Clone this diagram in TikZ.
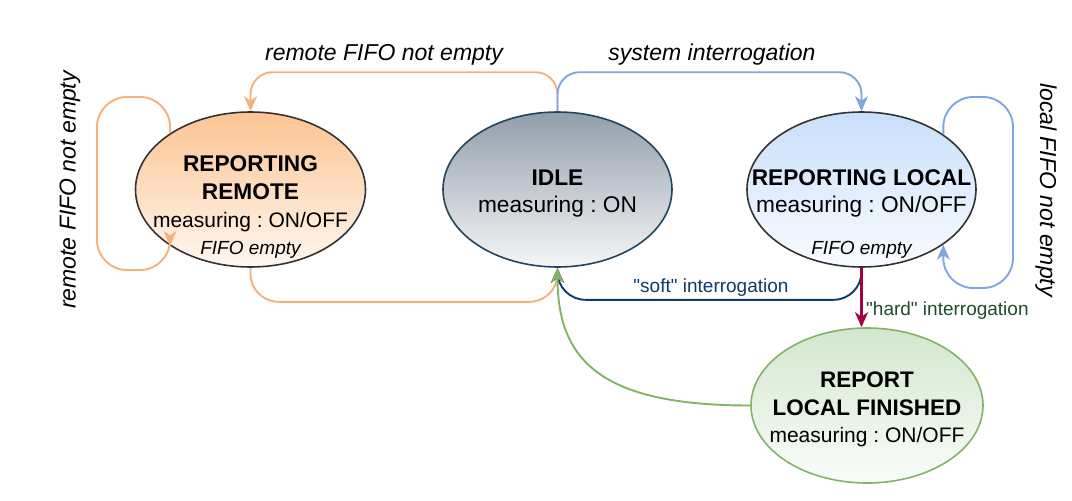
\documentclass[tikz,border=0pt]{standalone}
\usepackage{fontspec}
\setmainfont{Liberation Sans}
\newfontfamily\plainsans{Liberation Sans}
\frenchspacing
\usetikzlibrary{shapes.geometric,arrows.meta}
\definecolor{orEdge}{HTML}{F6B07A}
\definecolor{blEdge}{HTML}{7EA6E0}
\definecolor{navyEdge}{HTML}{0E3A6A}
\definecolor{crimEdge}{HTML}{A50040}
\definecolor{grEdge}{HTML}{82B366}
\definecolor{hardTxt}{HTML}{1E4D2B}
\definecolor{idleLine}{HTML}{23445D}
\definecolor{darkLine}{HTML}{333333}
\newcommand{\smallmeas}{\fontsize{21}{28}\selectfont}
\tikzset{
  stnode/.style={ellipse, line width=1.6pt, inner sep=0pt, minimum width=230pt, minimum height=155pt},
  bigtxt/.style={align=center, inner sep=0pt, yshift=-4pt},
  smalltxt/.style={inner sep=0pt, font=\fontsize{19}{22}\selectfont\itshape},
  lbl/.style={inner sep=0pt, font=\fontsize{23}{27}\selectfont\itshape},
  edgelbl/.style={inner sep=0pt, font=\plainsans\fontsize{19}{22}\selectfont},
  conn/.style={line width=1.9pt, rounded corners=22pt, -{Stealth[length=15pt,width=13pt,inset=4.5pt]}},
}
\begin{document}
\begin{tikzpicture}[x=1pt,y=-1pt]
\useasboundingbox (0,0) rectangle (1072,501);
% states
\node[stnode, draw=darkLine, top color={rgb,255:red,252;green,196;blue,146}, bottom color={rgb,255:red,255;green,247;blue,240}] (rr) at (250.5,189.5) {};
\node[stnode, draw=idleLine, top color={rgb,255:red,146;green,158;blue,170}, bottom color={rgb,255:red,245;green,246;blue,248}, minimum width=229pt] (idle) at (557.5,189.5) {};
\node[stnode, draw=darkLine, top color={rgb,255:red,200;green,223;blue,250}, bottom color={rgb,255:red,250;green,252;blue,255}, minimum width=229pt] (loc) at (861.5,189.5) {};
\node[stnode, draw=grEdge, top color={rgb,255:red,210;green,231;blue,206}, bottom color={rgb,255:red,250;green,253;blue,249}, minimum width=232pt] (fin) at (867,405.5) {};
% state texts
\node[bigtxt, font=\fontsize{22.7}{28}\selectfont] (rrt) at (rr.center) {\textbf{REPORTING}\\\textbf{REMOTE}\\\smallmeas measuring : ON/OFF};
\node[smalltxt] (rrf) at ([yshift=-60pt]rr.center) {FIFO empty};
\node[bigtxt, font=\fontsize{22.7}{27}\selectfont] (idlet) at (idle.center) {\textbf{IDLE}\\measuring : ON};
\node[bigtxt, font=\fontsize{22.7}{27}\selectfont] (loct) at (loc.center) {\textbf{REPORTING LOCAL}\\measuring : ON/OFF};
\node[smalltxt] (locf) at ([yshift=-60pt]loc.center) {FIFO empty};
\node[bigtxt, font=\fontsize{22.5}{27.5}\selectfont] (fint) at (fin.center) {\textbf{REPORT}\\\textbf{LOCAL FINISHED}\\\smallmeas measuring : ON/OFF};
% helper coordinates
\coordinate (rrlt) at (97,97);
\coordinate (rrlb) at (97,270);
\coordinate (rrbr) at (rr.215 |- rrlb);
\coordinate (loclt) at (1013,97);
\coordinate (loclb) at (1013,288);
\coordinate (locbr) at (loc.326 |- loclb);
% connectors
\draw[conn, orEdge] (idle.north) -- ++(0,-39) -| (rr.north);
\draw[conn, blEdge] (idle.north) -- ++(0,-39) -| (loc.north);
\draw[conn, orEdge] (rr.145) [rounded corners=30pt] |- (rrlt) -- (rrlb) -- (rrbr) [rounded corners=12pt] -- (rr.215);
\draw[conn, blEdge] (loc.34) [rounded corners=30pt] |- (loclt) -- (loclb) -- (locbr) [rounded corners=20pt] -- (loc.326);
\draw[conn, orEdge, rounded corners=28pt] (rr.south) -- ++(0,34) -| (idle.south);
\draw[conn, navyEdge, rounded corners=28pt] (loc.south) -- ++(0,32) -| (idle.south);
\draw[conn, grEdge, rounded corners=0pt] (fin.west) .. controls (600,405.5) and (557.5,360) .. (idle.south);
\draw[conn, crimEdge, line width=2.2pt, rounded corners=0pt] (loc.south) -- (loc.south |- fin.north);
% labels
\node[lbl] (l1) at (384,55) {remote FIFO not empty};
\node[lbl] (l2) at (712,55) {system interrogation};
\node[lbl, rotate=90] (l3) at (70,190) {remote FIFO not empty};
\node[lbl, rotate=-90] (l4) at (1046,190) {local FIFO not empty};
\node[edgelbl, text=navyEdge] (l5) at (711,288) {"soft" interrogation};
\node[edgelbl, text=hardTxt, anchor=west] (l6) at (866,311) {"hard" interrogation};
\end{tikzpicture}
\end{document}
